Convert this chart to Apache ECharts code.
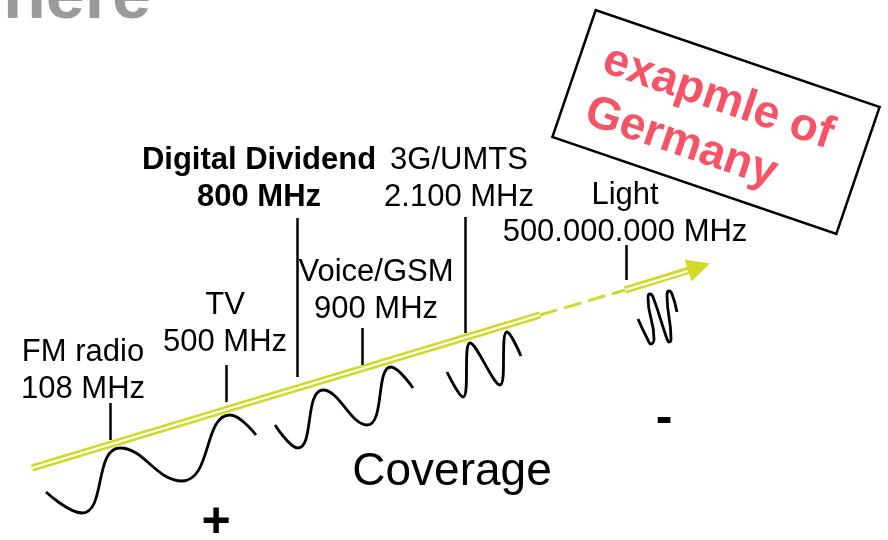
<!DOCTYPE html>
<html>
<head>
<meta charset="utf-8">
<title>Coverage</title>
<script src="https://cdn.jsdelivr.net/npm/echarts@6/dist/echarts.min.js"></script>
<style>
  html, body { margin: 0; padding: 0; background: #fff; }
  #chart { width: 888px; height: 540px; }
</style>
</head>
<body>
<div id="chart"></div>
<script>
// 频段（标签 + 频率）
const bandNames = ['FM radio', 'TV', 'Digital Dividend', 'Voice/GSM', '3G/UMTS', 'Light']
const bandFreqs = ['108 MHz', '500 MHz', '800 MHz', '900 MHz', '2.100 MHz', '500.000.000 MHz']
// 每个频段的竖线（x, 上端 y, 下端 y），坐标系与画面同尺寸
const tickX = [110, 226, 297, 362, 465, 626]
const tickTop = [403, 365, 218, 328, 217, 245]
const tickBottom = [440, 402, 377, 365, 333, 280]

// 波形：起点、波谷、波峰 ... 终点
const waveFM = [[46, 492], [82, 513], [120, 448], [182, 481], [230, 415], [256, 435]]
const waveDD = [[275, 425], [298, 448], [323, 390], [367, 425], [391, 367], [413, 388]]
const waveUMTS = [[447, 372], [463, 397], [470, 343], [500, 385], [507, 332], [521, 356]]
const waveLight = [
  [638, 319], [647, 338], [651, 344], [654, 339], [648, 298], [650, 294], [653, 297],
  [667, 339], [669, 342], [671, 339], [667, 295], [669, 291], [672, 294], [677, 312]
]

// 频率轴（黄色箭头）：实线段 / 虚线段 / 实线段 + 箭头
const axisSolidA = [[32, 468], [540, 315]]
const axisDashed = [[540, 315], [625, 290]]
const axisSolidB = [[625, 290], [699, 267]]
const axisInnerB = [[625, 290], [688, 271]]

const YELLOW = '#d3d92b'
const FONT = '"Liberation Sans", Arial, Helvetica, sans-serif'

let myChart = echarts.init(document.getElementById('chart'))

// 文字：给定中心 x 和基线 y
function txt(str, cx, baseline, size, bold, color, align) {
  return {
    type: 'text',
    x: cx,
    y: baseline - 0.3465 * size,
    z: 10,
    style: {
      text: str,
      font: (bold ? 'bold ' : '') + size + 'px ' + FONT,
      fill: color || '#000',
      align: align || 'center',
      verticalAlign: 'middle'
    }
  }
}

// 标签位置（中心 x，第二行基线）
const labelPos = [[83, 400], [225, 353], [259, 208], [376, 320], [459, 208], [625, 243]]
let labels = []
bandNames.forEach((name, i) => {
  let bold = name === 'Digital Dividend'
  let size = 31
  labels.push(txt(name, labelPos[i][0], labelPos[i][1] - 37, size, bold))
  labels.push(txt(bandFreqs[i], labelPos[i][0], labelPos[i][1], size, bold))
})

function waveSeries(name, pts) {
  return {
    name: name,
    type: 'line',
    data: pts,
    smooth: true,
    showSymbol: false,
    lineStyle: { color: '#000', width: 2.8 },
    z: 5
  }
}

myChart.setOption({
  animation: false,
  grid: { left: 0, right: 0, top: 0, bottom: 0 },
  xAxis: { type: 'value', min: 0, max: 888, show: false },
  yAxis: { type: 'value', min: 0, max: 540, inverse: true, show: false },
  series: [
    {
      // 黄色粗线
      type: 'lines',
      coordinateSystem: 'cartesian2d',
      symbol: 'none',
      lineStyle: { color: YELLOW, width: 7.5, opacity: 1 },
      data: [{ coords: axisSolidA }],
      z: 2
    },
    {
      type: 'lines',
      coordinateSystem: 'cartesian2d',
      symbol: ['none', 'triangle'],
      symbolSize: [23, 23],
      lineStyle: { color: YELLOW, width: 7.5, opacity: 1 },
      data: [{ coords: axisSolidB }],
      z: 2
    },
    {
      // 中间白线 -> 双线效果
      type: 'lines',
      coordinateSystem: 'cartesian2d',
      symbol: 'none',
      lineStyle: { color: '#fff', width: 2.3, opacity: 1 },
      data: [{ coords: axisSolidA }, { coords: axisInnerB }],
      z: 3
    },
    {
      // 虚线段
      type: 'lines',
      coordinateSystem: 'cartesian2d',
      symbol: 'none',
      lineStyle: { color: YELLOW, width: 3, type: [18, 7], opacity: 1 },
      data: [{ coords: axisDashed }],
      z: 2
    },
    {
      // 频段竖线
      type: 'lines',
      coordinateSystem: 'cartesian2d',
      symbol: 'none',
      lineStyle: { color: '#000', width: 2.5, opacity: 1 },
      data: tickX.map((x, i) => ({ coords: [[x, tickTop[i]], [x, tickBottom[i]]] })),
      z: 4
    },
    waveSeries('FM', waveFM),
    waveSeries('DD', waveDD),
    waveSeries('UMTS', waveUMTS),
    waveSeries('Light', waveLight)
  ],
  graphic: [
    // 上方被截断的标题
    txt('here', 3, 23, 70, true, '#9a9a9a', 'left'),
    ...labels,
    txt('Coverage', 452, 488, 46, false),
    txt('+', 216, 541, 50, true),
    txt('-', 664, 437, 50, true),
    {
      type: 'group',
      x: 716,
      y: 122,
      rotation: -18.85 * Math.PI / 180,
      z: 10,
      children: [
        {
          type: 'rect',
          shape: { x: -150, y: -67, width: 300, height: 134 },
          style: { fill: '#fff', stroke: '#000', lineWidth: 2.5 }
        },
        txt('exapmle of', -126, -7.5, 46, true, '#f55467', 'left'),
        txt('Germany', -126, 47, 46, true, '#f55467', 'left')
      ]
    }
  ]
})

window.onresize = function () {
  myChart.resize()
}
</script>
</body>
</html>
